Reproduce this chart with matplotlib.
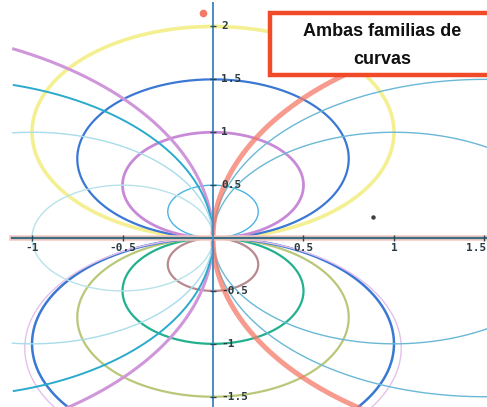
import numpy as np
import matplotlib
matplotlib.use("Agg")
import matplotlib.pyplot as plt
from matplotlib.patches import Rectangle

# circles centred on the y axis, through the origin: x^2 + (y-c)^2 = c^2
v_centres = [1.0, 0.75, 0.5, 0.25, -0.25, -0.5, -0.75, -1.0, -1.04]
v_colors = ["#f4f092", "#3a78d4", "#c88ad6", "#4ab4e4", "#b88a90",
            "#22b08e", "#b8c878", "#3a78d4", "#e4c0ea"]
v_widths = [2.6, 1.6, 2.0, 1.0, 1.6, 1.6, 1.6, 1.8, 1.0]

# circles centred on the x axis, through the origin: (x-c)^2 + y^2 = c^2
h_centres = [-2.0, -1.5, -1.0, -0.5, 1.0, 1.5, 2.0]
h_colors = ["#d096da", "#2aaacc", "#a8dceb", "#b8e2ea", "#6ab8d6",
            "#6ab8d6", "#f47a68"]
h_widths = [2.2, 1.4, 1.0, 1.0, 1.0, 1.0, 3.6]

x_ticks = [-1, -0.5, 0.5, 1, 1.5]
x_tick_labels = ["-1", "-0.5", "0.5", "1", "1.5"]
y_ticks = [2, 1.5, 1, 0.5, -0.5, -1, -1.5]
y_tick_labels = ["2", "1.5", "1", "0.5", "-0.5", "-1", "-1.5"]

title_lines = ["Ambas familias de", "curvas"]

fig = plt.figure(figsize=(4.87, 4.07), dpi=100)
ax = fig.add_axes([0, 0, 1, 1])
ax.set_xlim(-1.177, 1.514)
ax.set_ylim(-1.597, 2.25)
ax.axis("off")

t = np.linspace(0, 2 * np.pi, 800)
for c, col, lw in zip(v_centres, v_colors, v_widths):
    ax.plot(c * np.sin(t), c + c * np.cos(t), color=col, lw=lw, zorder=2)
for c, col, lw in zip(h_centres, h_colors, h_widths):
    alpha = 0.75 if c == 2.0 else 1.0
    xs = c + c * np.cos(t)
    ys = c * np.sin(t)
    # the original graph only traces these from x = -1.11 onwards
    xs = np.where(xs < -1.11, np.nan, xs)
    ax.plot(xs, ys, color=col, lw=lw, alpha=alpha, zorder=2)

# axes: x axis with a pink halo, y axis in blue
ax.plot([-1.11, 1.52], [0, 0], color="#f6c8c0", lw=4, zorder=3)
ax.plot([-1.11, 1.52], [0, 0], color="#3a7082", lw=1.6, zorder=4)
ax.plot([0, 0], [-1.6, 2.22], color="#4a8cc4", lw=1.4, zorder=4)

ax.plot(x_ticks, [0] * len(x_ticks), ls="none", marker="|", ms=5,
        color="#2a4a58", mew=1, zorder=5)
ax.plot([0] * len(y_ticks), y_ticks, ls="none", marker="_", ms=5,
        color="#2a4a58", mew=1, zorder=5)

for xv, lab in zip(x_ticks, x_tick_labels):
    ha = "right" if xv == x_ticks[-1] else "center"
    xpos = 1.512 if xv == x_ticks[-1] else xv
    ax.text(xpos, -0.05, lab, ha=ha, va="top", fontsize=8,
            fontweight="bold", family="DejaVu Sans Mono", color="#2a3a40",
            zorder=6)
for yv, lab in zip(y_ticks, y_tick_labels):
    ax.text(0.045, yv, lab, ha="left", va="center", fontsize=8,
            fontweight="bold", family="DejaVu Sans Mono", color="#2a3a40",
            zorder=6)

# loose points from the original construction
ax.plot([-0.055], [2.127], "o", color="#f47a68", ms=4.5, zorder=6)
ax.plot([0.884], [0.198], "o", color="#404040", ms=2.2, zorder=6)

# title box
fig.patches.append(Rectangle((270 / 487, 1 - 75 / 407), 0.6, 62 / 407,
                             transform=fig.transFigure, facecolor="white",
                             edgecolor="#f04a28", lw=3.2, zorder=10))
for i, line in enumerate(title_lines):
    fig.text(382 / 487, 1 - (32 + 28 * i) / 407, line, ha="center",
             va="center", fontsize=13, fontweight="bold",
             fontstretch="condensed",
             family=["Liberation Sans Narrow", "Liberation Sans", "DejaVu Sans"],
             color="#101010", zorder=11)

fig.savefig("out.png", dpi=100)
